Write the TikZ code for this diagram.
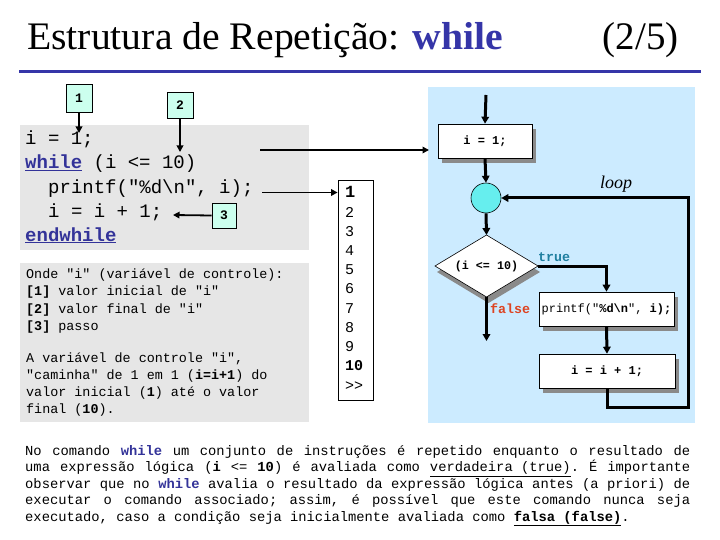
\documentclass[tikz,border=0pt]{standalone}
\usepackage{fontspec}
\setmainfont{Liberation Serif}
\setmonofont{Liberation Mono}
\usetikzlibrary{arrows.meta,shapes.geometric,shadows}
\definecolor{codeblue}{HTML}{333399}
\definecolor{titleblue}{HTML}{3535A8}
\definecolor{graybg}{HTML}{E6E6E6}
\definecolor{panelblue}{HTML}{CCEBFF}
\definecolor{tagfill}{HTML}{CCFFEE}
\definecolor{circfill}{HTML}{66EEEE}
\definecolor{truecol}{HTML}{1F7FA0}
\definecolor{falsecol}{HTML}{DD4422}
\definecolor{shadowgray}{HTML}{8A8A8A}
\newcommand{\kwd}[1]{\textcolor{codeblue}{\underline{\textbf{#1}}}}
\begin{document}
\begin{tikzpicture}[x=1pt,y=-1pt,
  tag/.style={draw=black,fill=tagfill,line width=0.8pt,inner sep=0pt,
    font=\ttfamily\bfseries\fontsize{13}{13}\selectfont},
  code/.style={anchor=base west,inner sep=0pt,font=\ttfamily\fontsize{19}{19}\selectfont},
  ptr/.style={line width=1.8pt,-{Triangle[width=6.5pt,length=6.5pt]}},
  flow/.style={line width=3pt,-{Triangle[width=7.5pt,length=7pt]}},
  fshadow/.style={drop shadow={shadow xshift=4pt,shadow yshift=-5pt,fill=shadowgray,opacity=1}},
  fbox/.style={draw=black,fill=white,line width=0.6pt,inner sep=0pt,fshadow,
    font=\ttfamily\fontsize{12}{12}\selectfont},
  lbl/.style={inner sep=0pt,font=\ttfamily\bfseries\fontsize{13.3}{13.3}\selectfont}
]
\useasboundingbox (0,0) rectangle (720,540);
\fill[white] (0,0) rectangle (720,540);
% title
\node[anchor=base west,inner sep=0pt] (title) at (27,50)
  {\resizebox{476pt}{\height}{\fontsize{39}{39}\selectfont Estrutura de Repetição: \textcolor{titleblue}{\textbf{while}}}};
\node[anchor=base east,inner sep=0pt,font=\fontsize{39}{39}\selectfont] (page) at (679,50) {(2/5)};
\draw[titleblue,line width=3pt] (19,71.5) -- (701,71.5);
% gray backgrounds
\fill[graybg] (20,125) rectangle (309,250);
\fill[graybg] (20,263) rectangle (309,422);
% code
\node[code] (c1) at (25,145) {i = 1;};
\node[code] (c2) at (25,169) {\kwd{while} (i <= 10)};
\node[code] (c3) at (48,194) {printf("\%d\textbackslash n", i);};
\node[code] (c4) at (48,218) {i = i + 1;};
\node[code] (c5) at (25,241) {\kwd{endwhile}};
% tags
\node[tag,minimum width=26pt,minimum height=28pt] (t1) at (79,98) {1};
\node[tag,minimum width=26pt,minimum height=26pt] (t2) at (180,105) {2};
\node[tag,minimum width=24pt,minimum height=25pt] (t3) at (224,215.5) {3};
\coordinate (t1tip) at (79,133);
\coordinate (t2tip) at (180,152);
\coordinate (t3tip) at (173,215);
\draw[ptr] (t1.south) -- (t1tip);
\draw[ptr] (t2.south) -- (t2tip);
\draw[ptr] (t3.west) -- (t3tip);
% explanation
\node[anchor=base west,inner sep=0pt] (onde) at (26,278)
  {\parbox[t]{285pt}{\ttfamily\fontsize{13.4}{17.6}\selectfont
   Onde "i" (variável de controle):\\
   \textbf{[1]} valor inicial de "i"\\
   \textbf{[2]} valor final de "i"\\
   \textbf{[3]} passo}};
\node[anchor=base west,inner sep=0pt] (expl) at (26,362)
  {\parbox[t]{285pt}{\ttfamily\fontsize{13.4}{17.3}\selectfont
   A variável de controle "i",\\
   "caminha" de 1 em 1 (\textbf{i=i+1}) do\\
   valor inicial (\textbf{1}) até o valor\\
   final (\textbf{10}).}};
% number box
\node[draw=black,fill=white,line width=0.8pt,minimum width=35pt,minimum height=220pt,inner sep=0pt] (numbox) at (355.5,290) {};
\node[anchor=base west,inner sep=0pt] (nums) at (345,198)
  {\parbox[t]{25pt}{\ttfamily\fontsize{15}{19.2}\selectfont
   \textbf{\fontsize{17}{19.2}\selectfont 1}\\2\\3\\4\\5\\6\\7\\8\\9\\\textbf{10}\\>>}};
% flowchart panel
\fill[panelblue] (428,87) rectangle (695,423);
\coordinate (c2src) at (260,150);
\coordinate (panelin) at (429,150);
\draw[ptr] (c2src) -- (panelin);
\coordinate (c3src) at (262,192.5);
\draw[ptr] (c3src) -- (numbox.west |- c3src);
\node[fbox,font=\ttfamily\bfseries\fontsize{12}{12}\selectfont,minimum width=94pt,minimum height=34pt] (b1) at (485,141) {i = 1;};
\node[circle,draw=black,fill=circfill,line width=0.6pt,minimum size=30pt,inner sep=0pt] (circ) at (486,198) {};
% decision diamond
\coordinate (dN) at (486.5,235);
\coordinate (dE) at (538,266);
\coordinate (dS) at (486.5,297);
\coordinate (dW) at (435,266);
\fill[shadowgray] ([shift={(2,6)}]dN) -- ([shift={(2,6)}]dE) -- ([shift={(2,6)}]dS) -- ([shift={(2,6)}]dW) -- cycle;
\draw[fill=white,line width=0.6pt] (dN) -- (dE) -- (dS) -- (dW) -- cycle;
\node[inner sep=0pt,font=\ttfamily\bfseries\fontsize{11.7}{11.7}\selectfont] (dia) at (486.5,266) {(i <= 10)};
\node[fbox,minimum width=135pt,minimum height=34pt] (b2) at (606.5,309) {printf("\textbf{\%d\textbackslash n}", \textbf{i);}};
\node[fbox,font=\ttfamily\bfseries\fontsize{12}{12}\selectfont,minimum width=136pt,minimum height=34pt] (b3) at (607,371) {i = i + 1;};
\coordinate (top) at (486,95);
\coordinate (falseend) at (486.5,341);
\coordinate (lp2) at (688,407);
\coordinate (lp3) at (688,198);
\draw[flow] (top) -- (b1.north);
\draw[flow] (b1.south) -- (circ.north);
\draw[flow] (circ.south) -- (dN);
\draw[flow] (dE) -| (b2.north);
\draw[flow] (dS) -- (falseend);
\draw[flow] (b2.south) -- (b3.north);
\draw[flow] (b3.south) |- (lp2) -- (lp3) -- (circ.east);
\node[lbl,text=truecol,anchor=west] (truel) at (538,257) {true};
\node[lbl,text=falsecol,anchor=west] (falsel) at (490,309) {false};
\node[inner sep=0pt,font=\itshape\fontsize{18}{18}\selectfont] (loopl) at (616,184) {loop};
% bottom paragraph
\node[anchor=base west,inner sep=0pt] (para) at (25,455)
  {\parbox[t]{665pt}{\ttfamily\fontsize{13.8}{16.5}\selectfont
   \frenchspacing\spaceskip=8.28pt plus 8pt\relax\tolerance=10000\parindent=0pt
   No comando \textcolor{codeblue}{\textbf{while}} um conjunto de instruções é repetido enquanto o resultado de\linebreak
   uma expressão lógica (\textbf{i} <= \textbf{10}) é avaliada como \underline{verdadeira (true)}. É importante\linebreak
   observar que no \textcolor{codeblue}{\textbf{while}} avalia o resultado da expressão lógica antes (a priori) de\linebreak
   executar o comando associado; assim, é possível que este comando nunca seja\linebreak
   executado, caso a condição seja inicialmente avaliada como \underline{\textbf{falsa (false)}}.}};
\end{tikzpicture}
\end{document}
